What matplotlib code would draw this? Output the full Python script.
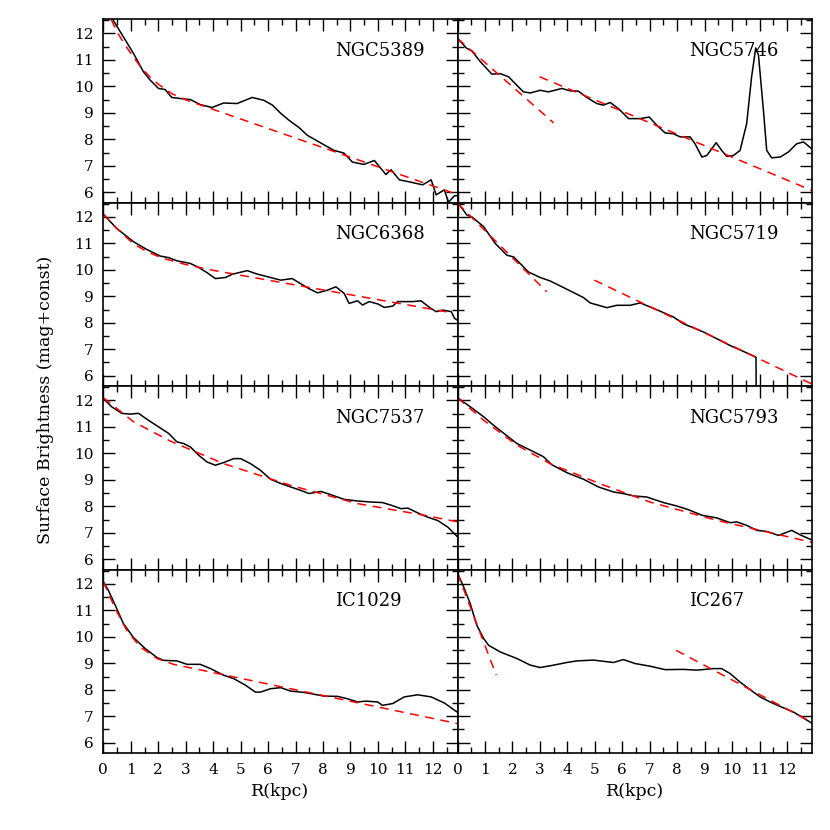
import matplotlib
matplotlib.use('Agg')
import matplotlib.pyplot as plt
from matplotlib.ticker import MultipleLocator

plt.rcParams['font.family'] = ['DejaVu Serif']

# profiles: R in kpc, mu in mag+const
ngc5389_r = [0.05, 0.34, 0.73, 1.10, 1.46, 1.71, 2.01, 2.25, 2.49, 2.80, 3.17, 3.53, 3.96, 4.38, 4.87,
             5.42, 5.85, 6.16, 6.47, 6.76, 7.13, 7.43, 7.92, 8.40, 8.76, 9.07, 9.49, 9.87, 10.29, 10.48,
             10.78, 11.20, 11.63, 11.94, 12.12, 12.42, 12.57, 12.79, 12.97]
ngc5389_mu = [13.15, 12.53, 11.87, 11.24, 10.55, 10.23, 9.92, 9.88, 9.58, 9.54, 9.50, 9.31, 9.20, 9.37, 9.35,
              9.58, 9.47, 9.29, 8.97, 8.72, 8.44, 8.15, 7.86, 7.58, 7.48, 7.14, 7.05, 7.20, 6.67, 6.85,
              6.47, 6.38, 6.28, 6.47, 5.90, 6.09, 5.62, 5.87, 5.87]
ngc5389_fit_r = [0.05, 0.5, 0.8, 1.1, 1.4, 1.7, 2.0, 2.5, 3.0, 12.91]
ngc5389_fit_mu = [13.05, 12.05, 11.55, 11.10, 10.68, 10.35, 10.08, 9.72, 9.49, 5.91]

ngc5746_r = [0.0, 0.34, 0.52, 0.83, 1.25, 1.55, 1.86, 2.16, 2.40, 2.65, 3.01, 3.31, 3.80, 4.10, 4.40,
             4.71, 5.07, 5.31, 5.56, 5.86, 6.23, 6.65, 6.98, 7.26, 7.56, 7.86, 8.11, 8.47, 8.65, 8.90,
             9.08, 9.42, 9.62, 9.81, 10.05, 10.29, 10.53, 10.71, 10.86, 10.96, 11.14, 11.26, 11.44,
             11.75, 12.05, 12.35, 12.60, 12.90]
ngc5746_mu = [11.81, 11.43, 11.34, 10.93, 10.46, 10.48, 10.36, 10.04, 9.79, 9.75, 9.85, 9.79, 9.92, 9.83,
              9.82, 9.58, 9.35, 9.29, 9.39, 9.16, 8.78, 8.78, 8.84, 8.53, 8.24, 8.21, 8.09, 8.09, 7.83,
              7.33, 7.39, 7.87, 7.58, 7.35, 7.39, 7.58, 8.59, 10.36, 11.45, 11.18, 9.10, 7.58, 7.30,
              7.33, 7.52, 7.83, 7.90, 7.64]
ngc5746_fit1_r = [0.0, 3.50]
ngc5746_fit1_mu = [11.81, 8.62]
ngc5746_fit2_r = [2.99, 12.90]
ngc5746_fit2_mu = [10.36, 6.07]

ngc6368_r = [0.0, 0.49, 1.10, 1.58, 2.07, 2.38, 2.68, 3.17, 3.47, 3.78, 4.08, 4.45, 4.69, 5.24, 5.60,
             6.09, 6.46, 6.88, 7.13, 7.49, 7.80, 8.16, 8.47, 8.77, 8.95, 9.26, 9.44, 9.68, 10.00, 10.23,
             10.54, 10.72, 11.02, 11.27, 11.57, 11.88, 12.12, 12.36, 12.67, 12.79, 12.97]
ngc6368_mu = [12.10, 11.56, 11.06, 10.77, 10.52, 10.46, 10.34, 10.24, 10.09, 9.89, 9.67, 9.71, 9.83, 9.97,
              9.84, 9.71, 9.61, 9.67, 9.51, 9.29, 9.13, 9.23, 9.36, 9.11, 8.73, 8.83, 8.67, 8.80, 8.71,
              8.58, 8.63, 8.80, 8.80, 8.80, 8.83, 8.58, 8.42, 8.48, 8.42, 8.17, 8.04]
ngc6368_fit_r = [0.0, 0.5, 1.1, 1.6, 2.1, 3.0, 4.0, 12.73]
ngc6368_fit_mu = [12.10, 11.55, 10.98, 10.68, 10.46, 10.20, 9.98, 8.37]

ngc5719_r = [0.0, 0.34, 0.52, 0.95, 1.37, 1.80, 2.04, 2.28, 2.58, 3.01, 3.37, 3.86, 4.34, 4.59, 4.83,
             5.44, 5.80, 6.29, 6.65, 7.01, 7.44, 7.86, 8.23, 8.47, 8.96, 9.44, 9.93, 10.41, 10.87, 10.88]
ngc5719_mu = [12.55, 12.07, 12.00, 11.63, 11.00, 10.55, 10.49, 10.24, 9.92, 9.71, 9.58, 9.33, 9.08, 8.95,
              8.75, 8.57, 8.66, 8.66, 8.75, 8.60, 8.41, 8.22, 7.96, 7.86, 7.65, 7.40, 7.14, 6.92, 6.70, 5.0]
ngc5719_fit1_r = [0.0, 3.25]
ngc5719_fit1_mu = [12.51, 9.17]
ngc5719_fit2_r = [4.98, 12.90]
ngc5719_fit2_mu = [9.61, 5.69]

ngc7537_r = [0.0, 0.30, 0.67, 0.97, 1.28, 1.64, 2.01, 2.38, 2.68, 2.92, 3.17, 3.47, 3.78, 4.08, 4.38,
             4.75, 5.00, 5.36, 5.72, 6.09, 6.46, 6.82, 7.19, 7.49, 7.92, 8.28, 8.77, 9.26, 9.74, 10.17,
             10.48, 10.84, 11.09, 11.51, 11.81, 12.18, 12.55, 12.79, 12.97]
ngc7537_mu = [12.07, 11.76, 11.51, 11.48, 11.51, 11.25, 11.00, 10.75, 10.43, 10.37, 10.24, 9.93, 9.67,
              9.55, 9.65, 9.80, 9.80, 9.61, 9.36, 9.02, 8.86, 8.73, 8.60, 8.48, 8.56, 8.44, 8.26, 8.20,
              8.16, 8.14, 8.04, 7.91, 7.93, 7.72, 7.59, 7.46, 7.21, 6.96, 6.77]
ngc7537_fit_r = [0.0, 1.10, 2.44, 4.38, 6.82, 9.26, 11.69, 12.97]
ngc7537_fit_mu = [12.10, 11.19, 10.46, 9.61, 8.79, 8.10, 7.66, 7.40]

ngc5793_r = [0.0, 0.46, 0.95, 1.31, 1.74, 2.16, 2.65, 3.13, 3.43, 3.98, 4.59, 5.13, 5.68, 6.04, 6.41,
             6.89, 7.50, 7.99, 8.41, 8.90, 9.44, 9.93, 10.17, 10.53, 10.90, 11.26, 11.69, 12.17, 12.48, 12.90]
ngc5793_mu = [12.10, 11.76, 11.38, 11.06, 10.71, 10.37, 10.12, 9.87, 9.57, 9.27, 9.02, 8.73, 8.54, 8.48,
              8.39, 8.35, 8.14, 8.01, 7.87, 7.66, 7.56, 7.38, 7.41, 7.28, 7.09, 7.05, 6.90, 7.09, 6.92, 6.73]
ngc5793_fit_r = [0.0, 0.95, 2.16, 3.37, 5.19, 7.01, 9.44, 12.90]
ngc5793_fit_mu = [12.10, 11.25, 10.31, 9.61, 8.85, 8.16, 7.47, 6.64]

ic1029_r = [0.0, 0.18, 0.43, 0.73, 1.10, 1.52, 1.95, 2.19, 2.68, 3.05, 3.53, 3.90, 4.38, 4.75, 5.18,
            5.54, 5.72, 6.09, 6.46, 6.82, 7.31, 8.04, 8.53, 8.89, 9.26, 9.56, 9.99, 10.17, 10.54, 10.96,
            11.45, 11.94, 12.42, 12.91]
ic1029_mu = [12.08, 11.76, 11.20, 10.50, 9.97, 9.56, 9.22, 9.11, 9.09, 8.96, 8.96, 8.80, 8.55, 8.42, 8.17,
             7.91, 7.91, 8.04, 8.08, 7.95, 7.90, 7.76, 7.75, 7.66, 7.54, 7.57, 7.54, 7.41, 7.48, 7.73,
             7.81, 7.73, 7.50, 7.14]
ic1029_fit_r = [0.0, 0.43, 0.85, 1.34, 1.95, 2.56, 12.91]
ic1029_fit_mu = [12.08, 11.07, 10.25, 9.62, 9.18, 8.96, 6.72]

ic267_r = [0.0, 0.22, 0.46, 0.70, 0.95, 1.13, 1.55, 2.16, 2.65, 3.01, 3.50, 3.98, 4.34, 4.95, 5.68,
           6.04, 6.47, 7.01, 7.56, 8.23, 8.71, 9.32, 9.62, 9.93, 10.29, 10.66, 11.02, 11.38, 11.75,
           12.23, 12.54, 12.90]
ic267_mu = [12.40, 11.89, 11.26, 10.44, 9.94, 9.68, 9.43, 9.18, 8.93, 8.84, 8.93, 9.03, 9.09, 9.12, 9.03,
            9.14, 8.99, 8.89, 8.76, 8.77, 8.74, 8.80, 8.80, 8.61, 8.29, 8.00, 7.73, 7.54, 7.37, 7.16,
            6.97, 6.74]
ic267_fit1_r = [0.0, 1.41]
ic267_fit1_mu = [12.40, 8.55]
ic267_fit2_r = [7.96, 12.78]
ic267_fit2_mu = [9.49, 6.84]

names = ['NGC5389', 'NGC5746', 'NGC6368', 'NGC5719', 'NGC7537', 'NGC5793', 'IC1029', 'IC267']
profiles = [(ngc5389_r, ngc5389_mu), (ngc5746_r, ngc5746_mu), (ngc6368_r, ngc6368_mu),
            (ngc5719_r, ngc5719_mu), (ngc7537_r, ngc7537_mu), (ngc5793_r, ngc5793_mu),
            (ic1029_r, ic1029_mu), (ic267_r, ic267_mu)]
fits = [[(ngc5389_fit_r, ngc5389_fit_mu)],
        [(ngc5746_fit1_r, ngc5746_fit1_mu), (ngc5746_fit2_r, ngc5746_fit2_mu)],
        [(ngc6368_fit_r, ngc6368_fit_mu)],
        [(ngc5719_fit1_r, ngc5719_fit1_mu), (ngc5719_fit2_r, ngc5719_fit2_mu)],
        [(ngc7537_fit_r, ngc7537_fit_mu)],
        [(ngc5793_fit_r, ngc5793_fit_mu)],
        [(ic1029_fit_r, ic1029_fit_mu)],
        [(ic267_fit1_r, ic267_fit1_mu), (ic267_fit2_r, ic267_fit2_mu)]]

fig, axes = plt.subplots(4, 2, figsize=(8.3, 8.3), dpi=100, sharex=True, sharey=True)
fig.subplots_adjust(left=0.1245, right=0.978, top=0.9767, bottom=0.0924, wspace=0, hspace=0)

for i, ax in enumerate(axes.flat):
    r, mu = profiles[i]
    ax.plot(r, mu, color='black', lw=1.1)
    for fr, fmu in fits[i]:
        ax.plot(fr, fmu, color='red', lw=1.1, dashes=(5.8, 4.3))
    ax.text(0.655, 0.83, names[i], transform=ax.transAxes, fontsize=13, va='center', ha='left')

    ax.set_xlim(0, 12.9)
    ax.set_ylim(5.6, 12.53)
    ax.xaxis.set_major_locator(MultipleLocator(1))
    ax.xaxis.set_minor_locator(MultipleLocator(0.5))
    ax.yaxis.set_major_locator(MultipleLocator(1))
    ax.yaxis.set_minor_locator(MultipleLocator(0.5))
    ax.tick_params(which='both', direction='in', top=True, right=True, width=1.0, labelsize=11)
    ax.tick_params(which='major', length=8.6, pad=7)
    ax.tick_params(which='minor', length=4.3)
    for s in ax.spines.values():
        s.set_linewidth(1.2)

for ax in axes[-1]:
    ax.set_xlabel('R(kpc)', fontsize=12.5, labelpad=4)

fig.text(0.055, 0.518, 'Surface Brightness (mag+const)', rotation=90, fontsize=12.5,
         ha='center', va='center')

fig.savefig('out.png', dpi=100)
